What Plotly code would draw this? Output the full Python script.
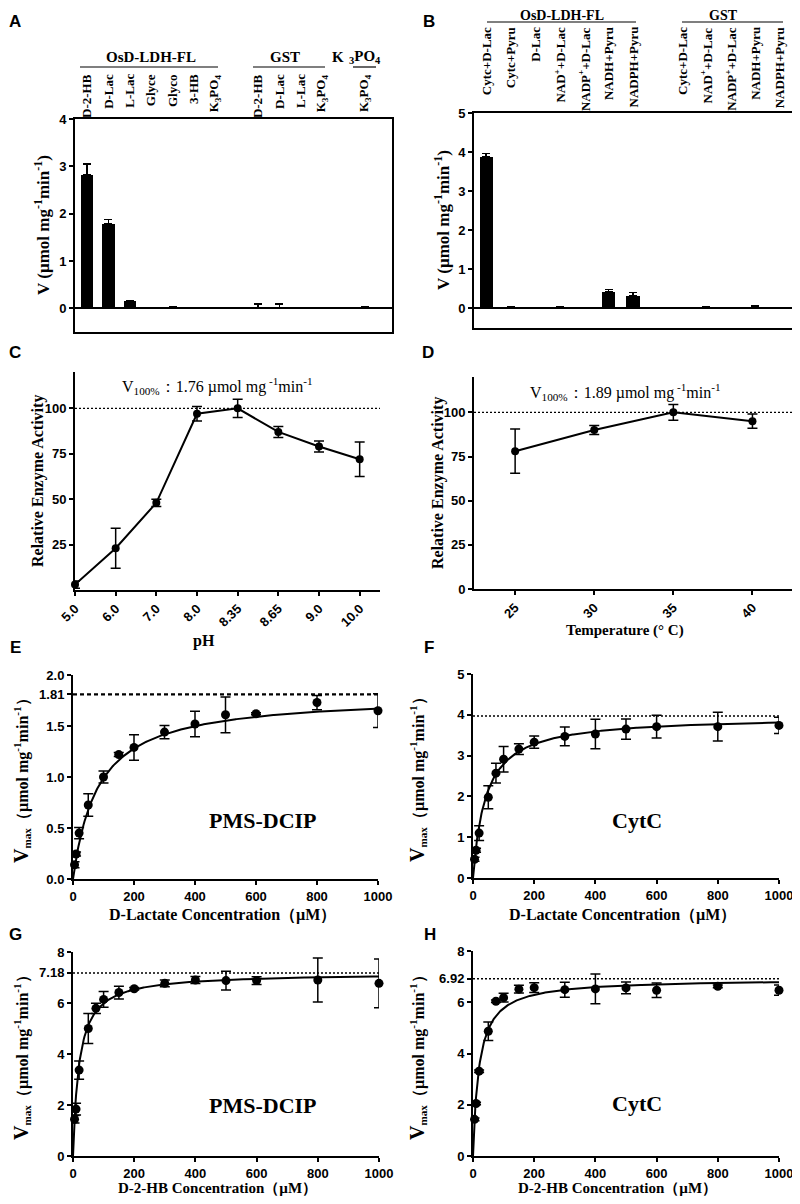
import numpy as np
import plotly.graph_objects as go

# page has an 8px body margin: the figure is shifted by it
OFF = 8
W, H = 800 - OFF, 1204 - OFF

# ---------------- Panel A data ----------------
A_osd_labels = ["D-2-HB", "D-Lac", "L-Lac", "Glyce", "Glyco", "3-HB", "K<sub>3</sub>PO<sub>4</sub>"]
A_osd_values = [2.82, 1.78, 0.15, 0.012, 0.02, 0.005, 0.005]
A_osd_errors = [0.23, 0.10, 0.02, 0.01, 0.01, 0.0, 0.0]
A_gst_labels = ["D-2-HB", "D-Lac", "L-Lac", "K<sub>3</sub>PO<sub>4</sub>"]
A_gst_values = [0.005, 0.005, 0.005, 0.005]
A_gst_errors = [0.09, 0.09, 0.0, 0.0]
A_buf_labels = ["K<sub>3</sub>PO<sub>4</sub>"]
A_buf_values = [0.02]
A_buf_errors = [0.01]

# ---------------- Panel B data ----------------
B_osd_labels = ["Cytc+D-Lac", "Cytc+Pyru", "D-Lac", "NAD<sup>+</sup>+D-Lac",
                "NADP<sup>+</sup>+D-Lac", "NADH+Pyru", "NADPH+Pyru"]
B_osd_values = [3.88, 0.03, 0.0, 0.03, 0.01, 0.42, 0.32]
B_osd_errors = [0.08, 0.01, 0.0, 0.01, 0.0, 0.07, 0.09]
B_gst_labels = ["Cytc+D-Lac", "NAD<sup>+</sup>+D-Lac", "NADP<sup>+</sup>+D-Lac",
                "NADH+Pyru", "NADPH+Pyru"]
B_gst_values = [0.03, 0.03, 0.01, 0.05, 0.01]
B_gst_errors = [0.0, 0.01, 0.0, 0.01, 0.0]

# ---------------- Panel C data ----------------
pH_labels = ["5.0", "6.0", "7.0", "8.0", "8.35", "8.65", "9.0", "10.0"]
pH_activity = [3, 23, 48, 97, 100, 87, 79, 72]
pH_error = [2, 11, 2, 4, 5, 3, 3, 9.5]

# ---------------- Panel D data ----------------
temp_values = [25, 30, 35, 40]
temp_activity = [78, 90, 100, 95]
temp_error = [12.5, 2.5, 4.5, 4]

# ---------------- Panel E data ----------------
E_conc = [5, 10, 20, 50, 100, 150, 200, 300, 400, 500, 600, 800, 1000]
E_v = [0.14, 0.245, 0.45, 0.725, 1.0, 1.22, 1.29, 1.44, 1.52, 1.61, 1.62, 1.73, 1.65]
E_err = [0.03, 0.02, 0.055, 0.11, 0.06, 0.02, 0.125, 0.065, 0.125, 0.175, 0.01, 0.07, 0.165]
E_vmax, E_km = 1.81, 83

# ---------------- Panel F data ----------------
F_conc = [5, 10, 20, 50, 75, 100, 150, 200, 300, 400, 500, 600, 800, 1000]
F_v = [0.46, 0.68, 1.10, 1.98, 2.57, 2.91, 3.16, 3.33, 3.47, 3.53, 3.65, 3.71, 3.71, 3.74]
F_err = [0.05, 0.05, 0.18, 0.28, 0.24, 0.31, 0.13, 0.15, 0.23, 0.36, 0.25, 0.28, 0.35, 0.2]
F_vmax, F_km = 3.97, 42

# ---------------- Panel G data ----------------
G_conc = [5, 10, 20, 50, 75, 100, 150, 200, 300, 400, 500, 600, 800, 1000]
G_v = [1.44, 1.84, 3.37, 5.0, 5.79, 6.14, 6.41, 6.56, 6.77, 6.90, 6.88, 6.88, 6.90, 6.77]
G_err = [0.15, 0.23, 0.36, 0.59, 0.2, 0.31, 0.25, 0.05, 0.13, 0.14, 0.37, 0.15, 0.86, 0.96]
G_vmax, G_km = 7.18, 20

# ---------------- Panel H data ----------------
H_conc = [5, 10, 20, 50, 75, 100, 150, 200, 300, 400, 500, 600, 800, 1000]
H_v = [1.43, 2.05, 3.31, 4.87, 6.04, 6.18, 6.51, 6.57, 6.49, 6.52, 6.56, 6.47, 6.62, 6.47]
H_err = [0.05, 0.05, 0.05, 0.36, 0.05, 0.17, 0.15, 0.19, 0.29, 0.58, 0.23, 0.28, 0.05, 0.2]
H_vmax, H_km = 6.92, 20

# ---------------- helpers ----------------
SERIF = "Liberation Serif, Times New Roman, serif"
SANS = "Liberation Sans, Arial, sans-serif"


def px(x):
    return (x - OFF) / W


def py(y):
    return 1 - (y - OFF) / H


def xd(a, b):
    return [px(a), px(b)]


def yd(top, bottom):
    return [py(bottom), py(top)]


def slot_positions(groups):
    pos, cur = [], 0
    for g in groups:
        for _ in g:
            pos.append(cur)
            cur += 1
        cur += 1
    return pos


fig = go.Figure()
annotations = []
shapes = []

tickfont = dict(family=SANS, size=13, color="black", weight="bold")
axis_common = dict(showgrid=False, linecolor="black", linewidth=2, ticks="outside",
                   ticklen=4, tickwidth=1.5, tickcolor="black", tickfont=tickfont,
                   showline=True, zeroline=False, automargin=False, ticklabeloverflow="allow")

# ---------------- Bars A ----------------
A_labels = A_osd_labels + A_gst_labels + A_buf_labels
A_values = A_osd_values + A_gst_values + A_buf_values
A_errors = A_osd_errors + A_gst_errors + A_buf_errors
A_pos = slot_positions([A_osd_labels, A_gst_labels, A_buf_labels])
fig.add_trace(go.Bar(x=A_pos, y=A_values, width=0.58, marker=dict(color="black", line=dict(width=0)),
                     error_y=dict(type="data", array=A_errors, arrayminus=[0] * len(A_errors),
                                  symmetric=False, color="black", thickness=1.5, width=4),
                     xaxis="x", yaxis="y", showlegend=False))
for p, lab in zip(A_pos, A_labels):
    annotations.append(dict(x=p, y=py(72), xref="x", yref="paper", text=lab, textangle=-90,
                            showarrow=False, xanchor="center", yanchor="top",
                            font=dict(family=SERIF, size=13, color="black", weight="bold")))

# ---------------- Bars B ----------------
B_labels = B_osd_labels + B_gst_labels
B_values = B_osd_values + B_gst_values
B_errors = B_osd_errors + B_gst_errors
B_pos = slot_positions([B_osd_labels, B_gst_labels])
fig.add_trace(go.Bar(x=B_pos, y=B_values, width=0.55, marker=dict(color="black", line=dict(width=0)),
                     error_y=dict(type="data", array=B_errors, arrayminus=[0] * len(B_errors),
                                  symmetric=False, color="black", thickness=1.5, width=4),
                     xaxis="x2", yaxis="y2", showlegend=False))
for p, lab in zip(B_pos, B_labels):
    annotations.append(dict(x=p, y=py(25), xref="x2", yref="paper", text=lab, textangle=-90,
                            showarrow=False, xanchor="center", yanchor="top",
                            font=dict(family=SERIF, size=13, color="black", weight="bold")))

# ---------------- Lines C, D ----------------
err_style = dict(type="data", color="black", thickness=1.5, width=5)
fig.add_trace(go.Scatter(x=list(range(len(pH_labels))), y=pH_activity, mode="lines+markers",
                         line=dict(color="black", width=2), marker=dict(color="black", size=8),
                         error_y=dict(array=pH_error, **err_style), cliponaxis=False,
                         xaxis="x3", yaxis="y3", showlegend=False))
fig.add_trace(go.Scatter(x=temp_values, y=temp_activity, mode="lines+markers",
                         line=dict(color="black", width=2), marker=dict(color="black", size=8),
                         error_y=dict(array=temp_error, **err_style), cliponaxis=False,
                         xaxis="x4", yaxis="y4", showlegend=False))

# ---------------- Kinetics E-H ----------------
kin = [("5", E_conc, E_v, E_err, E_vmax, E_km),
       ("6", F_conc, F_v, F_err, F_vmax, F_km),
       ("7", G_conc, G_v, G_err, G_vmax, G_km),
       ("8", H_conc, H_v, H_err, H_vmax, H_km)]
for k, c, v, e, vmax, km in kin:
    xs = np.linspace(0, 1000, 400)
    fig.add_trace(go.Scatter(x=xs, y=vmax * xs / (km + xs), mode="lines",
                             line=dict(color="black", width=2), cliponaxis=False,
                             xaxis="x" + k, yaxis="y" + k, showlegend=False, hoverinfo="skip"))
    fig.add_trace(go.Scatter(x=c, y=v, mode="markers", marker=dict(color="black", size=9),
                             error_y=dict(array=e, **err_style), cliponaxis=False,
                             xaxis="x" + k, yaxis="y" + k, showlegend=False))
    fig.add_trace(go.Scatter(x=[0, 1000], y=[vmax, vmax], mode="lines",
                             line=dict(color="black", width=2.2 if k == "5" else 1.5,
                                       dash="4px,3px" if k == "5" else "2px,2px"),
                             xaxis="x" + k, yaxis="y" + k, showlegend=False, hoverinfo="skip",
                             cliponaxis=False))

# reference lines at 100% for C, D
fig.add_trace(go.Scatter(x=[0, 7.5], y=[100, 100], mode="lines",
                         line=dict(color="black", width=1.2, dash="2px,2px"),
                         xaxis="x3", yaxis="y3", showlegend=False, hoverinfo="skip"))
fig.add_trace(go.Scatter(x=[22.4, 42.5], y=[100, 100], mode="lines",
                         line=dict(color="black", width=1.2, dash="2px,2px"),
                         xaxis="x4", yaxis="y4", showlegend=False, hoverinfo="skip"))

# ---------------- Axes ----------------
layout = dict(template="none", width=W, height=H, autosize=False,
              margin=dict(l=0, r=0, t=0, b=0, pad=0, autoexpand=False),
              paper_bgcolor="white", plot_bgcolor="white", showlegend=False, bargap=0)

# A
layout["xaxis"] = dict(axis_common, domain=xd(75, 392), range=[-0.56, 14.26], mirror=True,
                       ticks="", showticklabels=False, anchor="y")
layout["yaxis"] = dict(axis_common, domain=yd(119, 332), range=[-0.5, 4], mirror=True,
                       tickvals=[0, 1, 2, 3, 4], zeroline=True, zerolinecolor="black",
                       zerolinewidth=2, anchor="x")
# B
layout["xaxis2"] = dict(axis_common, domain=xd(474, 792), range=[-0.5, 12.5], mirror=True,
                        ticks="", showticklabels=False, anchor="y2")
layout["yaxis2"] = dict(axis_common, domain=yd(113, 328), range=[-0.5, 5], mirror=True,
                        tickvals=[0, 1, 2, 3, 4, 5], zeroline=True, zerolinecolor="black",
                        zerolinewidth=2, anchor="x2")
# C
layout["xaxis3"] = dict(axis_common, domain=xd(75, 380), range=[0, 7.5],
                        tickvals=list(range(len(pH_labels))), ticktext=pH_labels,
                        tickangle=-45, anchor="y3")
layout["yaxis3"] = dict(axis_common, domain=yd(372, 590), range=[0, 120],
                        tickvals=[25, 50, 75, 100], anchor="x3")
# D
layout["xaxis4"] = dict(axis_common, domain=xd(474, 792), range=[22.4, 42.5],
                        tickvals=temp_values, tickangle=-45, anchor="y4")
layout["yaxis4"] = dict(axis_common, domain=yd(377, 589), range=[0, 120],
                        tickvals=[0, 25, 50, 75, 100], anchor="x4")
# E-H
kin_dom = {"5": (xd(73, 378), yd(675, 879)), "6": (xd(473, 779), yd(674, 878)),
           "7": (xd(73, 379), yd(952, 1156)), "8": (xd(473, 779), yd(951, 1156))}
kin_y = {"5": ([0, 2], [0, 0.5, 1.0, 1.5, E_vmax, 2.0], ["0.0", "0.5", "1.0", "1.5", "1.81", "2.0"]),
         "6": ([0, 5], [0, 1, 2, 3, 4, 5], ["0", "1", "2", "3", "4", "5"]),
         "7": ([0, 8], [0, 2, 4, 6, G_vmax, 8], ["0", "2", "4", "6", "7.18", "8"]),
         "8": ([0, 8], [0, 2, 4, 6, H_vmax, 8], ["0", "2", "4", "6", "6.92", "8"])}
for k in ["5", "6", "7", "8"]:
    xdom, ydom = kin_dom[k]
    rng, tv, tt = kin_y[k]
    layout["xaxis" + k] = dict(axis_common, domain=xdom, range=[0, 1000],
                               tickvals=[0, 200, 400, 600, 800, 1000], anchor="y" + k)
    layout["yaxis" + k] = dict(axis_common, domain=ydom, range=rng, tickvals=tv, ticktext=tt,
                               anchor="x" + k)


# ---------------- Text ----------------
def ann(x, y, text, size, family=SERIF, bold=True, angle=0, xanchor="center", yanchor="middle"):
    annotations.append(dict(x=px(x), y=py(y), xref="paper", yref="paper", text=text,
                            showarrow=False, textangle=angle, xanchor=xanchor, yanchor=yanchor,
                            font=dict(family=family, size=size, color="black",
                                      weight="bold" if bold else "normal")))


# panel letters
for letter, (lx, ly) in {"A": (15, 22), "B": (429, 22), "C": (15, 353), "D": (428, 353),
                         "E": (15, 647), "F": (429, 647), "G": (15, 934), "H": (430, 934)}.items():
    ann(lx, ly, letter, 17, family=SANS)

# group headers A
ann(151, 57, "OsD-LDH-FL", 15)
ann(285, 57, "GST", 15)
ann(338, 57, "K", 15)
ann(365, 57, "<sub>3</sub>PO<sub>4</sub>", 15)
for x0, x1 in [(80, 218), (253, 325), (353, 376)]:
    shapes.append(dict(type="line", xref="paper", yref="paper", x0=px(x0), x1=px(x1),
                       y0=py(67), y1=py(67), line=dict(color="black", width=1.2)))
# group headers B (kept just inside the page top)
ann(562, 15, "OsD-LDH-FL", 14)
ann(723, 15, "GST", 14)
for x0, x1 in [(487, 636), (682, 783)]:
    shapes.append(dict(type="line", xref="paper", yref="paper", x0=px(x0), x1=px(x1),
                       y0=py(22), y1=py(22), line=dict(color="black", width=1.2)))

# y titles
v_title = "V (µmol mg<sup>-1</sup>min<sup>-1</sup>)"
ann(42, 225, v_title, 17, angle=-90)
ann(442, 220, v_title, 17, angle=-90)
ann(38, 481, "Relative Enzyme Activity", 16, angle=-90)
ann(438, 483, "Relative Enzyme Activity", 16, angle=-90)
vmax_title = ("<span style='font-size:20px'>V</span><sub>max</sub>"
              "（µmol mg<sup>-1</sup>min<sup>-1</sup>）")
ann(21, 777, vmax_title, 16, angle=-90)
ann(417, 776, vmax_title, 16, angle=-90)
ann(21, 1054, vmax_title, 16, angle=-90)
ann(417, 1054, vmax_title, 16, angle=-90)

# x titles
ann(204, 641, "pH", 16)
ann(625, 630, "Temperature (° C)", 15)
ann(222, 915, "D-Lactate Concentration（µM）", 16)
ann(622, 915, "D-Lactate Concentration（µM）", 16)
ann(217, 1188, "D-2-HB Concentration（µM）", 15)
ann(617, 1188, "D-2-HB Concentration（µM）", 15)

# in-plot texts
ann(217, 386, "V<sub>100%</sub>：1.76 µmol mg<sup> -1</sup>min<sup>-1</sup>", 16, bold=False)
ann(625, 392, "V<sub>100%</sub>：1.89 µmol mg<sup> -1</sup>min<sup>-1</sup>", 16, bold=False)
ann(263, 820, "PMS-DCIP", 22)
ann(637, 820, "CytC", 22)
ann(263, 1105, "PMS-DCIP", 22)
ann(637, 1103, "CytC", 22)

layout["annotations"] = annotations
layout["shapes"] = shapes
fig.update_layout(**layout)
fig.write_html("out.html")
